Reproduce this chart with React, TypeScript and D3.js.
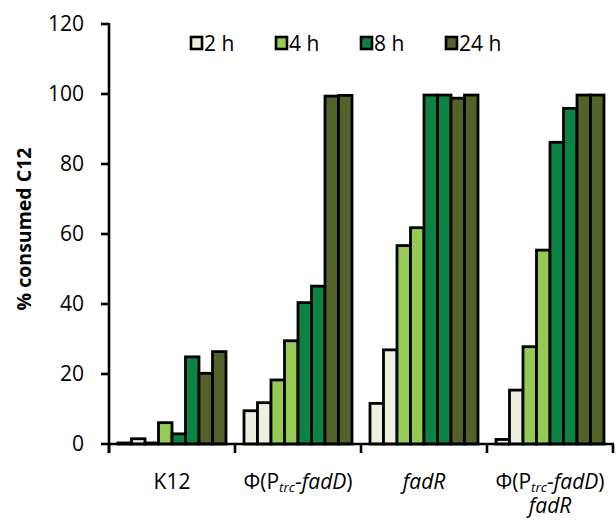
import React from 'react';
import * as d3 from 'd3';

const categories = ['K12', 'PhiFadD', 'fadR', 'PhiFadDfadR'];
const timeLabels = ['2 h', '4 h', '8 h', '24 h'];
const colors = ['#ebf1de', '#95cb55', '#0b8443', '#536229'];

// two replicates per strain for each time point
const h2 = [[0.3, 1.5], [9.5, 11.8], [11.6, 26.9], [1.3, 15.4]];
const h4 = [[0.3, 6.1], [18.3, 29.5], [56.7, 61.8], [27.8, 55.4]];
const h8 = [[2.9, 24.9], [40.4, 45.1], [99.7, 99.7], [86.2, 95.9]];
const h24 = [[20.2, 26.4], [99.4, 99.6], [98.8, 99.7], [99.7, 99.7]];
const yTicks = [0, 20, 40, 60, 80, 100, 120];

const W = 616, H = 523;
const font = "'Open Sans', sans-serif";

function CatLabel({ cat, x, y }: { cat: string; x: number; y: number }) {
  const phi = (
    <>
      <tspan>Φ(P</tspan>
      <tspan fontStyle="italic" fontSize={13.5} dy={3}>trc</tspan>
      <tspan dy={-3}>-</tspan>
      <tspan fontStyle="italic">fadD</tspan>
      <tspan>)</tspan>
    </>
  );
  if (cat === 'K12') return <text x={x} y={y} textAnchor="middle">K12</text>;
  if (cat === 'fadR') return <text x={x} y={y} textAnchor="middle" fontStyle="italic">fadR</text>;
  if (cat === 'PhiFadD') return <text x={x} y={y} textAnchor="middle">{phi}</text>;
  return (
    <g>
      <text x={x} y={y} textAnchor="middle">{phi}</text>
      <text x={x} y={y + 24} textAnchor="middle" fontStyle="italic">fadR</text>
    </g>
  );
}

export default function App() {
  const x0 = d3.scaleBand<string>().domain(categories).range([109, 613]).padding(0);
  const y = d3.scaleLinear().domain([0, 120]).range([444, 24]);
  const inner = d3.scaleBand<number>().domain(d3.range(8)).range([9, x0.bandwidth() - 9]).padding(0);

  const series = [h2, h4, h8, h24];
  const bars: { cat: string; i: number; v: number; color: string }[] = [];
  categories.forEach((cat, ci) => {
    series.forEach((s, ti) => {
      s[ci].forEach((v, r) => bars.push({ cat, i: ti * 2 + r, v, color: colors[ti] }));
    });
  });

  const legendX = d3.scalePoint<string>().domain(timeLabels).range([191, 446]);

  return (
    <svg width={W} height={H} style={{ position: 'absolute', left: 0, top: 0, background: '#fff' }} fontFamily={font}>
      {bars.map((b, k) => (
        <rect
          key={k}
          x={(x0(b.cat) as number) + (inner(b.i) as number)}
          y={y(b.v)}
          width={inner.bandwidth()}
          height={y(0) - y(b.v)}
          fill={b.color}
          stroke="#000"
          strokeWidth={2.8}
        />
      ))}
      {/* y axis */}
      <line x1={109} x2={109} y1={y(120) - 1} y2={y(0) + 9} stroke="#000" strokeWidth={2.6} />
      {yTicks.map(t => (
        <g key={t}>
          <line x1={101} x2={109} y1={y(t)} y2={y(t)} stroke="#000" strokeWidth={2.6} />
          <text x={84} y={y(t)} dy="0.35em" textAnchor="end" fontSize={21} fill="#000">{t}</text>
        </g>
      ))}
      {/* x axis */}
      <line x1={109} x2={614} y1={y(0)} y2={y(0)} stroke="#000" strokeWidth={2.6} />
      {categories.concat(['end']).map((c, i) => {
        const xx = i < categories.length ? (x0(c) as number) : 613;
        return <line key={c} x1={xx} x2={xx} y1={y(0)} y2={y(0) + 9} stroke="#000" strokeWidth={2.6} />;
      })}
      <g fontSize={21} fill="#000">
        {categories.map(c => (
          <CatLabel key={c} cat={c} x={(x0(c) as number) + x0.bandwidth() / 2} y={489} />
        ))}
      </g>
      <text
        transform={`translate(31,229) rotate(-90)`}
        textAnchor="middle"
        fontSize={19.5}
        fontWeight="bold"
      >
        % consumed C12
      </text>
      {/* legend */}
      {timeLabels.map((t, i) => (
        <g key={t} transform={`translate(${legendX(t)},37)`}>
          <rect x={0} y={0} width={11} height={12} fill={colors[i]} stroke="#000" strokeWidth={2.6} />
          <text x={13} y={6} dy="0.36em" fontSize={21}>{t}</text>
        </g>
      ))}
    </svg>
  );
}
